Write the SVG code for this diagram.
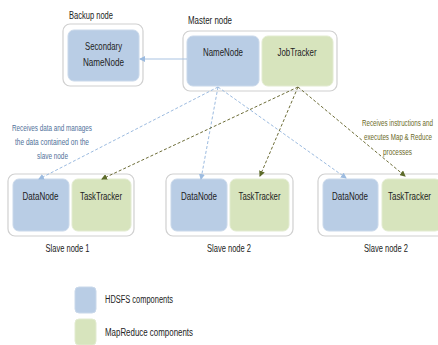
<svg xmlns="http://www.w3.org/2000/svg" width="438" height="345" viewBox="0 0 438 345">
<style>
.outer{fill:#fff;stroke:#d0d0d0;stroke-width:1.2}
.hd{fill:#b9cde5;stroke:#c9d8ea;stroke-width:1}
.mr{fill:#d7e4bd;stroke:#e2ebd0;stroke-width:1}
text{font-family:"Liberation Sans",Arial,sans-serif;fill:#222}
.t{font-size:11px;text-anchor:middle}
.lbl{font-size:11px}
.ab{font-size:9px;fill:#4f7199;text-anchor:middle}
.ao{font-size:9px;fill:#6b6a1f;text-anchor:middle}
.leg{font-size:10px}
.cb{stroke:#9cbbe0;stroke-width:1;fill:none;stroke-dasharray:3,2}
.co{stroke:#6d6d38;stroke-width:1;fill:none;stroke-dasharray:3,2}
</style>
<defs>
<marker id="ab" markerWidth="6" markerHeight="6" refX="5" refY="3" orient="auto" markerUnits="userSpaceOnUse"><path d="M0,0 L6,3 L0,6 z" fill="#9cbbe0"/></marker>
<marker id="ao" markerWidth="6" markerHeight="6" refX="5" refY="3" orient="auto" markerUnits="userSpaceOnUse"><path d="M0,0 L6,3 L0,6 z" fill="#5d6b2a"/></marker>
</defs>
<g id="backup">
<text class="lbl" x="69" y="19" textLength="44" lengthAdjust="spacingAndGlyphs">Backup node</text>
<rect class="outer" x="63" y="24" width="80" height="62" rx="7"/>
<rect class="hd" x="68" y="30" width="71" height="51" rx="6"/>
<text class="t" x="103.5" y="50" textLength="37" lengthAdjust="spacingAndGlyphs">Secondary</text>
<text class="t" x="103.5" y="66" textLength="41" lengthAdjust="spacingAndGlyphs">NameNode</text>
</g>
<g id="master">
<text class="lbl" x="188" y="24" textLength="44" lengthAdjust="spacingAndGlyphs">Master node</text>
<rect class="outer" x="183" y="31" width="154" height="60" rx="7"/>
<rect class="hd" x="187" y="36" width="72" height="50" rx="6"/>
<rect class="mr" x="262" y="36" width="71" height="50" rx="6"/>
<text class="t" x="223" y="56" textLength="40" lengthAdjust="spacingAndGlyphs">NameNode</text>
<text class="t" x="297" y="56" textLength="39" lengthAdjust="spacingAndGlyphs">JobTracker</text>
</g>
<g id="slave1">
<rect class="outer" x="8" y="174" width="126" height="62" rx="7"/>
<rect class="hd" x="13" y="179" width="56" height="52" rx="6"/>
<rect class="mr" x="72" y="179" width="59" height="52" rx="6"/>
<text class="t" x="40.5" y="200" textLength="36" lengthAdjust="spacingAndGlyphs">DataNode</text>
<text class="t" x="101" y="200" textLength="42" lengthAdjust="spacingAndGlyphs">TaskTracker</text>
<text class="t" x="67.5" y="252" textLength="44" lengthAdjust="spacingAndGlyphs">Slave node 1</text>
</g>
<g id="slave2">
<rect class="outer" x="166" y="174" width="127" height="62" rx="7"/>
<rect class="hd" x="171" y="179" width="56" height="52" rx="6"/>
<rect class="mr" x="230" y="179" width="59" height="52" rx="6"/>
<text class="t" x="199" y="200" textLength="36" lengthAdjust="spacingAndGlyphs">DataNode</text>
<text class="t" x="259.5" y="200" textLength="42" lengthAdjust="spacingAndGlyphs">TaskTracker</text>
<text class="t" x="229" y="252" textLength="44" lengthAdjust="spacingAndGlyphs">Slave node 2</text>
</g>
<g id="slave3">
<rect class="outer" x="318" y="174" width="127" height="62" rx="7"/>
<rect class="hd" x="323" y="179" width="55" height="52" rx="6"/>
<rect class="mr" x="382" y="179" width="59" height="52" rx="6"/>
<text class="t" x="350" y="200" textLength="36" lengthAdjust="spacingAndGlyphs">DataNode</text>
<text class="t" x="409.5" y="200" textLength="43" lengthAdjust="spacingAndGlyphs">TaskTracker</text>
<text class="t" x="386" y="252" textLength="44" lengthAdjust="spacingAndGlyphs">Slave node 2</text>
</g>
<g id="notes">
<text class="ab" x="52" y="131" textLength="80" lengthAdjust="spacingAndGlyphs">Receives data and manages</text>
<text class="ab" x="52" y="145" textLength="74" lengthAdjust="spacingAndGlyphs">the data contained on the</text>
<text class="ab" x="52.5" y="159" textLength="31" lengthAdjust="spacingAndGlyphs">slave node</text>
<text class="ao" x="397.5" y="126" textLength="71" lengthAdjust="spacingAndGlyphs">Receives instructions and</text>
<text class="ao" x="398" y="140" textLength="68" lengthAdjust="spacingAndGlyphs">executes Map &amp; Reduce</text>
<text class="ao" x="397.5" y="155" textLength="29" lengthAdjust="spacingAndGlyphs">processes</text>
</g>
<g id="connectors">
<line x1="187" y1="59" x2="140" y2="59" stroke="#a9c3e2" stroke-width="1" marker-end="url(#ab)"/>
<line class="cb" x1="218" y1="87" x2="39" y2="179" marker-end="url(#ab)"/>
<line class="cb" x1="218" y1="87" x2="201" y2="179" marker-end="url(#ab)"/>
<line class="cb" x1="218" y1="87" x2="346" y2="178" marker-end="url(#ab)"/>
<line class="co" x1="298" y1="87" x2="102" y2="179" marker-end="url(#ao)"/>
<line class="co" x1="298" y1="87" x2="260" y2="176" marker-end="url(#ao)"/>
<line class="co" x1="298" y1="87" x2="405" y2="176" marker-end="url(#ao)"/>
</g>
<g id="legend">
<rect class="hd" x="75" y="287" width="21" height="26" rx="4"/>
<rect class="mr" x="75" y="319" width="21" height="26" rx="4"/>
<text class="leg" x="105" y="303" textLength="68" lengthAdjust="spacingAndGlyphs">HDSFS components</text>
<text class="leg" x="105" y="336" textLength="88" lengthAdjust="spacingAndGlyphs">MapReduce components</text>
</g>
</svg>
